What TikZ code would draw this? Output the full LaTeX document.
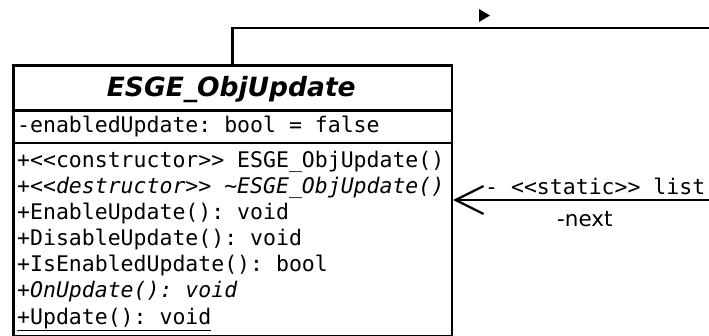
\documentclass[tikz,border=0pt]{standalone}
\usepackage{fontspec}
\setmainfont{DejaVu Sans}
\setsansfont{DejaVu Sans}
\setmonofont{DejaVu Sans Mono}
\usetikzlibrary{arrows.meta}
\tikzset{
  classbox/.style={draw, line width=2.6pt, inner sep=0pt, rectangle},
  sepline/.style={line width=2.6pt},
  conn/.style={line width=2.2pt},
  member/.style={anchor=base west, inner sep=0pt, font=\fontsize{21.5}{26}\ttfamily},
  imember/.style={member, font=\fontsize{21.5}{26}\ttfamily\itshape},
  title/.style={anchor=base, inner sep=0pt, font=\fontsize{26.5}{30}\sffamily\bfseries\itshape},
  rolelabel/.style={anchor=base west, inner sep=0pt, font=\fontsize{21.5}{26}\sffamily},
}
\begin{document}
\begin{tikzpicture}[x=1pt,y=-1pt]
\useasboundingbox (0,0) rectangle (709,336);
% class box
\node[classbox, minimum width=438.5pt, minimum height=271pt, anchor=north west] (cls) at (12,64) {};
\draw[sepline] (cls.west |- 0,110.5) coordinate (s1a) -- (cls.east |- 0,110.5) coordinate (s1b);
\draw[sepline] (cls.west |- 0,143) coordinate (s2a) -- (cls.east |- 0,143) coordinate (s2b);
\node[title] (ttl) at (231.25,97) {ESGE\_ObjUpdate};
\node[member] (attr) at (17,133) {-enabledUpdate: bool = false};
\node[member] (m1) at (17,168) {+<{}<constructor>{}> ESGE\_ObjUpdate()};
\node[imember] (m2) at (17,194) {+<{}<destructor>{}> \char`~ESGE\_ObjUpdate()};
\node[member] (m3) at (17,220) {+EnableUpdate(): void};
\node[member] (m4) at (17,246) {+DisableUpdate(): void};
\node[member] (m5) at (17,272) {+IsEnabledUpdate(): bool};
\node[imember] (m6) at (17,298) {+OnUpdate(): void};
\node[member] (m7) at (17,324) {\underline{+Update():\ void}};
% self association
\coordinate (topR) at (709,28);
\coordinate (arrR) at (709,200);
\coordinate (topL) at (cls.north |- topR);
\draw[conn] (cls.north) -- (topL) -- (topR);
\draw[conn, -{Straight Barb[length=28pt, width=28pt, line width=2.2pt]}] (arrR) -- (cls.east |- arrR);
\fill (479,9) -- (490,15.5) -- (479,22) -- cycle;
\node[rolelabel, font=\fontsize{21.5}{26}\ttfamily] (lst) at (485,195) {- <{}<static>{}> list};
\node[rolelabel] (nxt) at (557,227) {-next};
\end{tikzpicture}
\end{document}
